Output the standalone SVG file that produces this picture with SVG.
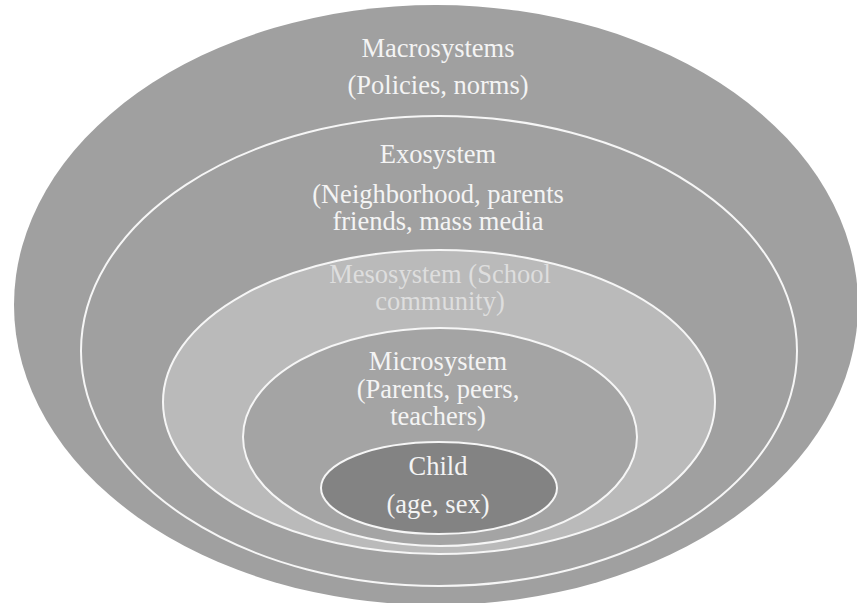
<svg xmlns="http://www.w3.org/2000/svg" width="857" height="603" viewBox="0 0 857 603">
<style>
.lbl{font-family:"Liberation Serif","Times New Roman",serif;font-size:26.5px;fill:#f4f4f4;text-anchor:middle}
.meso{fill:#dedede}
.ring{stroke:#f6f6f6;stroke-width:2}
</style>
<rect width="857" height="603" fill="#ffffff"/>
<g id="macrosystem">
<ellipse cx="436" cy="305" rx="422" ry="300" fill="#a0a0a0"/>
<text class="lbl" x="438" y="57">Macrosystems</text>
<text class="lbl" x="438" y="94">(Policies, norms)</text>
</g>
<g id="exosystem">
<ellipse class="ring" cx="439" cy="351" rx="358" ry="235" fill="#a0a0a0"/>
<text class="lbl" x="438" y="163">Exosystem</text>
<text class="lbl" x="438" y="203">(Neighborhood, parents</text>
<text class="lbl" x="438" y="230">friends, mass media</text>
</g>
<g id="mesosystem">
<ellipse class="ring" cx="439" cy="402" rx="276" ry="152" fill="#bababa"/>
<text class="lbl meso" x="440" y="283">Mesosystem (School</text>
<text class="lbl meso" x="440" y="310">community)</text>
</g>
<g id="microsystem">
<ellipse class="ring" cx="440" cy="437" rx="197" ry="109" fill="#a4a4a4"/>
<text class="lbl" x="438" y="370">Microsystem</text>
<text class="lbl" x="438" y="398">(Parents, peers,</text>
<text class="lbl" x="438" y="425">teachers)</text>
</g>
<g id="child">
<ellipse class="ring" cx="439" cy="488" rx="118" ry="46" fill="#838383"/>
<text class="lbl" x="438" y="475">Child</text>
<text class="lbl" x="438" y="513">(age, sex)</text>
</g>
<g id="connectors"/>
</svg>
